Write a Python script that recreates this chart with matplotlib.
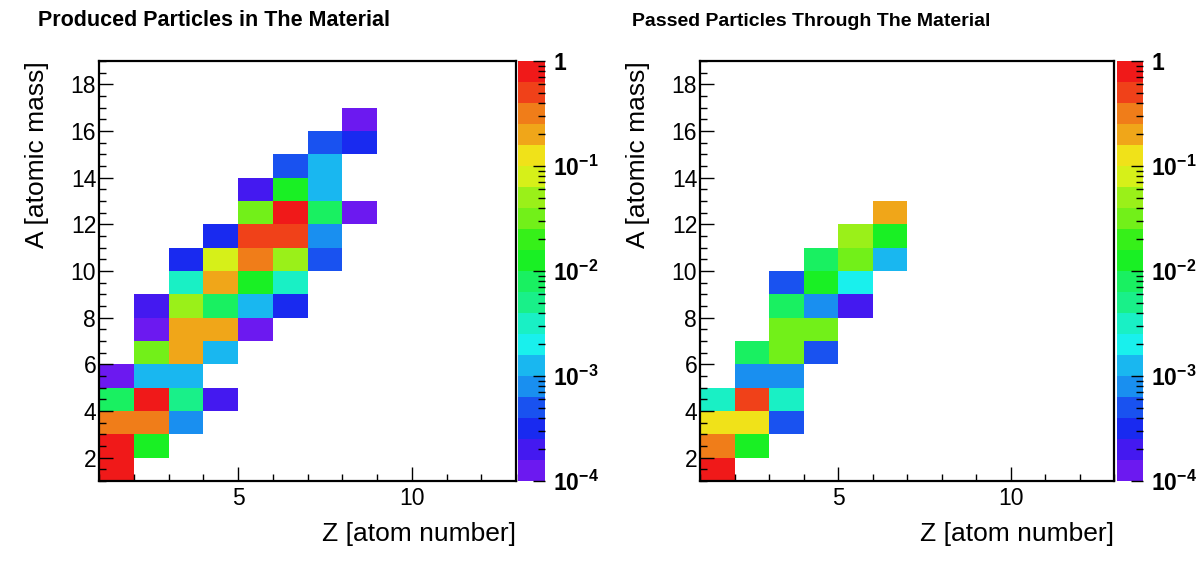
import colorsys

import numpy as np
import matplotlib.pyplot as plt
from matplotlib.colors import ListedColormap, LogNorm
from matplotlib.ticker import MultipleLocator

plt.rcParams['font.family'] = ['Liberation Sans', 'DejaVu Sans']
plt.rcParams['mathtext.fontset'] = 'custom'
plt.rcParams['mathtext.rm'] = 'Liberation Sans:bold'
plt.rcParams['mathtext.bf'] = 'Liberation Sans:bold'

# produced particles: bin (Z, A) and fraction
PROD_Z = [1, 1, 2, 1, 2, 3, 1, 2, 3, 4, 1, 2, 3, 2, 3, 4, 2, 3, 4, 5,
          2, 3, 4, 5, 6, 3, 4, 5, 6, 3, 4, 5, 6, 7, 4, 5, 6, 7,
          5, 6, 7, 8, 5, 6, 7, 6, 7, 7, 8, 8]
PROD_A = [1, 2, 2, 3, 3, 3, 4, 4, 4, 4, 5, 5, 5, 6, 6, 6, 7, 7, 7, 7,
          8, 8, 8, 8, 8, 9, 9, 9, 9, 10, 10, 10, 10, 10, 11, 11, 11, 11,
          12, 12, 12, 12, 13, 13, 13, 14, 14, 15, 15, 16]
PROD_VAL = [0.79, 0.79, 1.3e-2, 0.32, 0.32, 7.9e-4,
            7.9e-3, 0.79, 5.0e-3, 2.0e-4,
            1.3e-4, 1.3e-3, 1.3e-3,
            3.2e-2, 0.20, 1.3e-3,
            1.3e-4, 0.20, 0.20, 1.3e-4,
            2.0e-4, 5.0e-2, 7.9e-3, 1.3e-3, 3.2e-4,
            3.2e-3, 0.20, 1.3e-2, 3.2e-3,
            3.2e-4, 7.9e-2, 0.32, 5.0e-2, 5.0e-4,
            3.2e-4, 0.50, 0.50, 7.9e-4,
            3.2e-2, 0.79, 7.9e-3, 1.3e-4,
            2.0e-4, 1.3e-2, 1.3e-3,
            5.0e-4, 1.3e-3,
            5.0e-4, 3.2e-4,
            1.3e-4]

# particles passed through the material
PASS_Z = [1, 1, 2, 1, 2, 3, 1, 2, 3, 2, 3, 2, 3, 4, 3, 4, 3, 4, 5,
          3, 4, 5, 4, 5, 6, 5, 6, 6]
PASS_A = [1, 2, 2, 3, 3, 3, 4, 4, 4, 5, 5, 6, 6, 6, 7, 7, 8, 8, 8,
          9, 9, 9, 10, 10, 10, 11, 11, 12]
PASS_VAL = [0.79, 0.32, 1.3e-2, 0.13, 0.13, 5.0e-4,
            3.2e-3, 0.50, 3.2e-3,
            7.9e-4, 7.9e-4,
            7.9e-3, 3.2e-2, 5.0e-4,
            3.2e-2, 3.2e-2,
            7.9e-3, 7.9e-4, 2.0e-4,
            5.0e-4, 1.3e-2, 2.0e-3,
            7.9e-3, 3.2e-2, 1.3e-3,
            5.0e-2, 1.3e-2,
            0.20]

Z_EDGES = np.arange(1, 14)
A_EDGES = np.arange(1, 20)
N_CONT = 20

# ROOT "pretty palette": 50 HLS hues violet->red, 20 contour levels picked from it
pretty = [colorsys.hls_to_rgb((280 - (i + 1) * 280 / 50) / 360, 0.52, 0.88) for i in range(50)]
cmap = ListedColormap([pretty[int((k + 0.99) * 50 / N_CONT)] for k in range(N_CONT)])
norm = LogNorm(1e-4, 1)

W, H = 1196, 572


def fbox(x0, y0, x1, y1):
    return [x0 / W, 1 - y1 / H, (x1 - x0) / W, (y1 - y0) / H]


def to_grid(zs, as_, vals):
    grid = np.full((len(A_EDGES) - 1, len(Z_EDGES) - 1), np.nan)
    for z, a, v in zip(zs, as_, vals):
        grid[a - 1, z - 1] = v
    return np.ma.masked_invalid(grid)


def draw_panel(fig, frame, cbar, zs, as_, vals, title, title_x, title_size):
    ax = fig.add_axes(fbox(*frame))
    cax = fig.add_axes(fbox(*cbar))
    mesh = ax.pcolormesh(Z_EDGES, A_EDGES, to_grid(zs, as_, vals),
                         cmap=cmap, norm=norm, edgecolors='none', antialiased=False)
    ax.set_xlim(1, 13)
    ax.set_ylim(1, 19)
    ax.set_xticks([5, 10])
    ax.xaxis.set_minor_locator(MultipleLocator(1))
    ax.set_yticks(np.arange(2, 19, 2))
    ax.yaxis.set_minor_locator(MultipleLocator(0.5))
    ax.tick_params(which='both', direction='in', top=False, right=False,
                   labelsize=16.5, width=1)
    ax.tick_params(which='major', length=10)
    ax.tick_params(which='minor', length=5)
    ax.tick_params(axis='y', pad=2)
    ax.tick_params(axis='x', pad=4)
    for sp in ax.spines.values():
        sp.set_linewidth(1.6)

    cb = fig.colorbar(mesh, cax=cax)
    cb.outline.set_visible(False)
    cb.set_ticks([1e-4, 1e-3, 1e-2, 1e-1, 1])
    cb.set_ticklabels([r'$\mathbf{10^{-4}}$', r'$\mathbf{10^{-3}}$', r'$\mathbf{10^{-2}}$',
                       r'$\mathbf{10^{-1}}$', r'$\mathbf{1}$'])
    cax.tick_params(which='both', direction='in', right=True, left=False,
                    labelsize=16.5, width=1, pad=6)
    cax.tick_params(which='major', length=9)
    cax.tick_params(which='minor', length=5)

    x0, y0, x1, y1 = frame
    fig.text(title_x / W, 1 - 21 / H, title, ha='left', va='center',
             fontsize=title_size, fontweight='bold')
    fig.text((x0 - 62) / W, 1 - y0 / H, 'A [atomic mass]', rotation=90,
             ha='center', va='top', fontsize=19)
    fig.text(x1 / W, 1 - 534 / H, 'Z [atom number]', ha='right', va='center',
             fontsize=19)


fig = plt.figure(figsize=(W / 100, H / 100), dpi=100)
draw_panel(fig, (99, 61, 516, 481), (518, 61, 545, 481),
           PROD_Z, PROD_A, PROD_VAL, 'Produced Particles in The Material', 38, 15.5)
draw_panel(fig, (700, 61, 1114, 481), (1117, 61, 1143, 481),
           PASS_Z, PASS_A, PASS_VAL, 'Passed Particles Through The Material', 632, 14)

fig.savefig('out.png', dpi=100)
